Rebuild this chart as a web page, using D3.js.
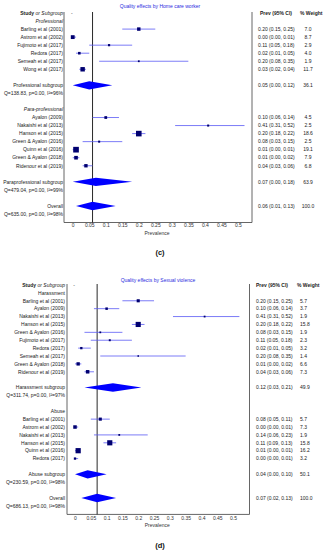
<!DOCTYPE html>
<html><head><meta charset="utf-8">
<script src="https://cdn.jsdelivr.net/npm/d3@7"></script>
<style>
body{margin:0;background:#fff}
svg text{font-family:"Liberation Sans",Arial,sans-serif}
</style>
</head><body><svg id="chart" width="330" height="550"></svg>
<script>
// ---------- Panel (c) data ----------
const cTitle = "Quality effects by Home care worker";
const cGroups = ["Professional", "Para-professional"];
const cStudies = ["Barling et al (2001)", "Astrom et al (2002)", "Fujimoto et al (2017)", "Redora (2017)", "Semeah et al (2017)", "Wong et al (2017)",
  "Ayalon (2009)", "Nakaishi et al (2013)", "Hanson et al (2015)", "Green & Ayalon (2016)", "Quinn et al (2016)", "Green & Ayalon (2018)", "Ridenour et al (2019)"];
const cGroupIdx = [0,0,0,0,0,0, 1,1,1,1,1,1,1];
const cPrev   = [0.20,0.00,0.11,0.02,0.20,0.03, 0.10,0.41,0.20,0.08,0.01,0.01,0.04];
const cLow    = [0.15,0.00,0.05,0.01,0.08,0.02, 0.06,0.31,0.18,0.03,0.00,0.00,0.03];
const cHigh   = [0.25,0.01,0.18,0.05,0.35,0.04, 0.14,0.52,0.22,0.15,0.01,0.02,0.06];
const cWeight = [7.0,8.7,2.9,4.0,1.9,11.7, 4.5,2.5,18.6,2.5,19.1,7.9,6.8];
const cSubLabels = ["Professional subgroup", "Paraprofessional subgroup"];
const cSubPrev = [0.05, 0.07];
const cSubLow = [0.00, 0.00];
const cSubHigh = [0.12, 0.18];
const cSubWeight = [36.1, 63.9];
const cSubQ = ["Q=138.83, p=0.00, I\u00B2=96%", "Q=479.04, p=0.00, I\u00B2=99%"];
const cOverall = [0.06, 0.01, 0.13, 100.0];
const cOverallQ = "Q=635.00, p=0.00, I\u00B2=98%";

// ---------- Panel (d) data ----------
const dTitle = "Quality effects by Sexual violence";
const dGroups = ["Harassment", "Abuse"];
const dStudies = ["Barling et al (2001)", "Ayalon (2009)", "Nakaishi et al (2013)", "Hanson et al (2015)", "Green & Ayalon (2016)", "Fujimoto et al (2017)", "Redora (2017)", "Semeah et al (2017)", "Green & Ayalon (2018)", "Ridenour et al (2019)",
  "Barling et al (2001)", "Astrom et al (2002)", "Nakaishi et al (2013)", "Hanson et al (2015)", "Quinn et al (2016)", "Redora (2017)"];
const dGroupIdx = [0,0,0,0,0,0,0,0,0,0, 1,1,1,1,1,1];
const dPrev   = [0.20,0.10,0.41,0.20,0.08,0.11,0.02,0.20,0.01,0.04, 0.08,0.00,0.14,0.11,0.01,0.00];
const dLow    = [0.15,0.06,0.31,0.18,0.03,0.05,0.01,0.08,0.00,0.03, 0.05,0.00,0.06,0.09,0.00,0.00];
const dHigh   = [0.25,0.14,0.52,0.22,0.15,0.18,0.05,0.35,0.02,0.06, 0.11,0.01,0.23,0.13,0.01,0.01];
const dWeight = [5.7,3.7,1.9,15.8,1.9,2.3,3.2,1.4,6.6,7.3, 5.7,7.3,1.9,15.8,16.2,3.2];
const dSubLabels = ["Harassment subgroup", "Abuse subgroup"];
const dSubPrev = [0.12, 0.04];
const dSubLow = [0.03, 0.00];
const dSubHigh = [0.21, 0.10];
const dSubWeight = [49.9, 50.1];
const dSubQ = ["Q=311.74, p=0.00, I\u00B2=97%", "Q=230.59, p=0.00, I\u00B2=98%"];
const dOverall = [0.07, 0.02, 0.13, 100.0];
const dOverallQ = "Q=686.13, p=0.00, I\u00B2=98%";

const tickValues = [0,0.05,0.1,0.15,0.2,0.25,0.3,0.35,0.4,0.45,0.5];
const tickLabels = ["0","0.05","0.1","0.15","0.2","0.25","0.3","0.35","0.4","0.45","0.5"];

const svg = d3.select("#chart");
const f2 = d3.format(".2f"), f1 = d3.format(".1f");
const ciText = (p,l,h) => `${f2(p)} (${f2(l)}, ${f2(h)})`;

function buildRows(groups, studies, gi, prev, low, high, w, subL, subP, subLo, subHi, subW, subQ, ov, ovQ) {
  const rows = [{type:"header"}];
  groups.forEach((g, k) => {
    if (k > 0) rows.push({type:"blank"});
    rows.push({type:"group", label:g});
    studies.forEach((s, i) => {
      if (gi[i] === k) rows.push({type:"study", label:s, p:prev[i], lo:low[i], hi:high[i], w:w[i]});
    });
    rows.push({type:"blank"});
    rows.push({type:"sub", label:subL[k], p:subP[k], lo:subLo[k], hi:subHi[k], w:subW[k]});
    rows.push({type:"q", label:subQ[k]});
  });
  rows.push({type:"blank"});
  rows.push({type:"sub", label:"Overall", p:ov[0], lo:ov[1], hi:ov[2], w:ov[3]});
  rows.push({type:"q", label:ovQ});
  return rows;
}

function drawPanel(cfg, rows) {
  const g = svg.append("g");
  const x = d3.scaleLinear().domain(cfg.domain).range(cfg.frame);
  const y = i => cfg.headerY + i * cfg.step;
  const size = d3.scaleSqrt().domain([0, 20]).range([0, 5.8]);
  const nRows = rows.length;
  const bottom = y(nRows - 1) + 8.5;
  const top = cfg.headerY - 1;

  // title
  g.append("text").attr("x", cfg.titleX).attr("y", cfg.titleY).attr("text-anchor","middle")
    .attr("dy","0.35em").attr("font-size",5).attr("fill","#2a2ae0").text(cfg.title);

  // frame (left, bottom, right)
  g.append("path").attr("d", `M${cfg.frame[0]},${top}V${bottom}H${cfg.frame[1]}V${top}`)
    .attr("fill","none").attr("stroke","#555").attr("stroke-width",0.9);

  // axis
  const axis = d3.axisBottom(x).tickValues(tickValues).tickSize(0).tickPadding(cfg.tickPad)
    .tickFormat((d,i) => tickLabels[i]);
  const ag = g.append("g").attr("transform", `translate(0,${bottom})`).call(axis);
  ag.select(".domain").remove();
  ag.selectAll("text").attr("font-size",5).attr("fill","#333").attr("font-family","Liberation Sans, Arial, sans-serif");
  g.append("text").attr("x",(cfg.frame[0]+cfg.frame[1])/2 - 1).attr("y", bottom + 11).attr("dy","0.35em")
    .attr("text-anchor","middle").attr("font-size",5).attr("fill","#333").text("Prevalence");

  // null line at overall estimate
  const ov = rows[nRows - 2];
  g.append("line").attr("x1", x(ov.p)).attr("x2", x(ov.p)).attr("y1", top).attr("y2", bottom)
    .attr("stroke","#111").attr("stroke-width",0.9);

  // header
  const h = g.append("text").attr("x", cfg.labelRight).attr("y", y(0)).attr("dy","0.35em")
    .attr("text-anchor","end").attr("font-size",5).attr("fill","#222");
  h.append("tspan").attr("font-weight","bold").text("Study");
  h.append("tspan").attr("font-style","italic").text(" or Subgroup");
  g.append("text").attr("x", x(0) - 1).attr("y", y(0)).attr("dy","0.35em").attr("text-anchor","middle")
    .attr("font-size",5).attr("fill","#333").text("-");
  g.append("text").attr("x", cfg.prevHeaderX).attr("y", y(0)).attr("dy","0.35em")
    .attr("font-size",5).attr("font-weight","bold").attr("fill","#222").text("Prev (95% CI)");
  g.append("text").attr("x", cfg.weightHeaderX).attr("y", y(0)).attr("dy","0.35em")
    .attr("font-size",5).attr("font-weight","bold").attr("fill","#222").text("% Weight");

  rows.forEach((r, i) => {
    const yy = y(i);
    if (r.type === "blank" || r.type === "header") return;
    const lbl = g.append("text").attr("x", cfg.labelRight).attr("y", yy).attr("dy","0.35em")
      .attr("text-anchor","end").attr("font-size",5).attr("fill","#222").text(r.label);
    if (r.type === "group") lbl.attr("font-style", cfg.groupStyle);
    if (r.type === "study") {
      g.append("line").attr("x1", x(r.lo)).attr("x2", x(r.hi)).attr("y1", yy).attr("y2", yy)
        .attr("stroke","#5a5af5").attr("stroke-width",0.8);
      const s = size(r.w);
      g.append("rect").attr("x", x(r.p) - s/2).attr("y", yy - s/2).attr("width", s).attr("height", s)
        .attr("fill","#000070");
    }
    if (r.type === "sub") {
      g.append("path").attr("d", `M${x(r.lo)},${yy}L${x(r.p)},${yy-4.2}L${x(r.hi)},${yy}L${x(r.p)},${yy+4.2}Z`)
        .attr("fill","#0000ff");
    }
    if (r.type === "study" || r.type === "sub") {
      g.append("text").attr("x", cfg.prevX).attr("y", yy).attr("dy","0.35em").attr("font-size",5)
        .attr("fill","#222").text(ciText(r.p, r.lo, r.hi));
      g.append("text").attr("x", cfg.weightX).attr("y", yy).attr("dy","0.35em").attr("font-size",5)
        .attr("text-anchor", cfg.weightAnchor).attr("fill","#222").text(f1(r.w));
    }
  });

  g.append("text").attr("x", cfg.tagX).attr("y", cfg.tagY).attr("dy","0.35em").attr("text-anchor","middle")
    .attr("font-family","Liberation Serif, serif").attr("font-weight","bold").attr("font-size",7.5)
    .attr("fill","#111").text(cfg.tag);
}

const cRows = buildRows(cGroups, cStudies, cGroupIdx, cPrev, cLow, cHigh, cWeight,
  cSubLabels, cSubPrev, cSubLow, cSubHigh, cSubWeight, cSubQ, cOverall, cOverallQ);
const dRows = buildRows(dGroups, dStudies, dGroupIdx, dPrev, dLow, dHigh, dWeight,
  dSubLabels, dSubPrev, dSubLow, dSubHigh, dSubWeight, dSubQ, dOverall, dOverallQ);

drawPanel({title:cTitle, titleX:160, titleY:6, headerY:13, step:8.04, frame:[64,252], domain:[-0.0264,0.5427],
  labelRight:63, prevX:258, prevHeaderX:260, weightHeaderX:300, weightX:308, weightAnchor:"middle",
  groupStyle:"italic", tickPad:1.2, tag:"(c)", tagX:160, tagY:252}, cRows);
drawPanel({title:dTitle, titleX:158, titleY:280, headerY:285, step:7.89, frame:[67,249.5], domain:[-0.0253,0.552],
  labelRight:65, prevX:256, prevHeaderX:256, weightHeaderX:297, weightX:300, weightAnchor:"start",
  groupStyle:"normal", tickPad:2, tag:"(d)", tagX:160, tagY:545}, dRows);
</script>
</body></html>
